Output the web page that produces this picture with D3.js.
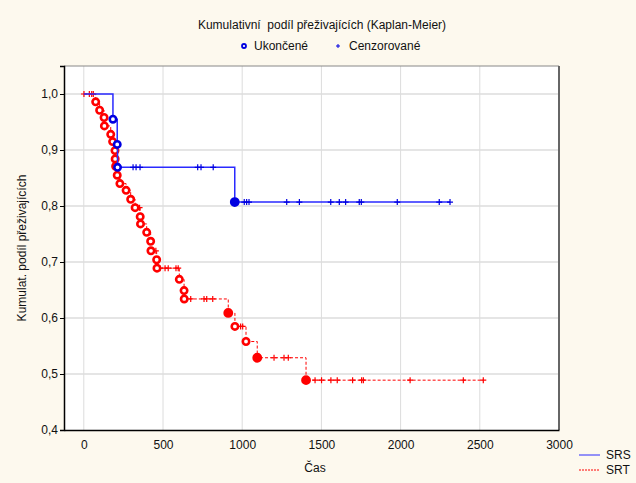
<!DOCTYPE html>
<html>
<head>
<meta charset="utf-8">
<script src="https://cdn.jsdelivr.net/npm/d3@7"></script>
<style>
  body { margin: 0; background: #fdf9ee; }
  svg { display: block; font-family: "Liberation Sans", Arial, sans-serif; }
</style>
</head>
<body>
<svg id="drawing_region"></svg>
<script>
// SRS group: event times / survival after event, censored times
const srsEventTimes = [184, 211, 213, 953];
const srsEventSurv = [0.955, 0.91, 0.869, 0.807];
const srsCensored = [311, 330, 355, 719, 740, 817, 1013, 1028, 1043, 1281, 1361, 1559, 1613, 1653, 1739, 1752, 1979, 2244, 2312];
const srsEnd = 2312;

// SRT group
const srtEventTimes = [75, 100, 128, 130, 170, 182, 197, 198, 201, 211, 228, 267, 296, 324, 356, 358, 397, 422, 424, 460, 462, 603, 633, 634, 912, 954, 1024, 1095, 1403];
const srtEventSurv = [0.986, 0.971, 0.958, 0.943, 0.928, 0.915, 0.899, 0.884, 0.871, 0.855, 0.84, 0.828, 0.812, 0.797, 0.781, 0.768, 0.753, 0.737, 0.72, 0.704, 0.689, 0.669, 0.649, 0.634, 0.609, 0.585, 0.558, 0.529, 0.489];
const srtCensored = [1, 35, 50, 60, 172, 352, 455, 481, 513, 533, 582, 596, 675, 759, 776, 814, 990, 1003, 1201, 1264, 1291, 1460, 1501, 1560, 1600, 1697, 1754, 1765, 2060, 2396, 2522];
const srtEnd = 2522;

// events where several markers overlap (drawn as filled dots)
const srsTied = [953];
const srtTied = [912, 1095, 1403];

const xTicks = [0, 500, 1000, 1500, 2000, 2500, 3000];
const yTicks = [0.4, 0.5, 0.6, 0.7, 0.8, 0.9, 1.0];

const width = 636, height = 483;
const plot = { left: 64, top: 66, right: 559, bottom: 430 };

const svg = d3.select('#drawing_region')
    .attr('width', width)
    .attr('height', height);

const x = d3.scaleLinear().domain([-125, 3000]).range([plot.left, plot.right]);
const y = d3.scaleLinear().domain([0.4, 1.05]).range([plot.bottom, plot.top]);

// plot background
svg.append('rect')
    .attr('x', plot.left).attr('y', plot.top)
    .attr('width', plot.right - plot.left).attr('height', plot.bottom - plot.top)
    .attr('fill', '#fff');

// grid
svg.append('g').selectAll('line')
    .data(xTicks.slice(0, -1))
    .join('line')
    .attr('x1', d => x(d)).attr('x2', d => x(d))
    .attr('y1', plot.top).attr('y2', plot.bottom)
    .attr('stroke', '#dcdcdc').attr('stroke-width', 1);

svg.append('g').selectAll('line')
    .data(yTicks.slice(1))
    .join('line')
    .attr('x1', plot.left).attr('x2', plot.right)
    .attr('y1', d => y(d)).attr('y2', d => y(d))
    .attr('stroke', '#dcdcdc').attr('stroke-width', 1.5);

// frame
svg.append('line').attr('x1', plot.left).attr('x2', plot.right).attr('y1', plot.top).attr('y2', plot.top)
    .attr('stroke', '#888').attr('stroke-width', 1);
svg.append('line').attr('x1', plot.right).attr('x2', plot.right).attr('y1', plot.top).attr('y2', plot.bottom)
    .attr('stroke', '#666').attr('stroke-width', 2);

// axes
const fmt = d => d.toFixed(1).replace('.', ',');
svg.append('g')
    .attr('transform', `translate(${plot.left},0)`)
    .call(d3.axisLeft(y).tickValues(yTicks).tickFormat(fmt).tickSize(4).tickPadding(2))
    .call(g => g.select('.domain').attr('stroke', '#000').attr('stroke-width', 1.5))
    .call(g => g.selectAll('text').attr('font-size', 12).attr('fill', '#111'));

svg.append('g')
    .attr('transform', `translate(0,${plot.bottom})`)
    .call(d3.axisBottom(x).tickValues(xTicks).tickFormat(d => d).tickSize(0).tickPadding(10))
    .call(g => g.select('.domain').attr('stroke', '#000').attr('stroke-width', 1.5))
    .call(g => g.selectAll('text').attr('font-size', 12).attr('fill', '#111'));

// Kaplan-Meier curves
function stepPoints(times, surv, end) {
    const pts = [[0, 1]];
    times.forEach((t, i) => pts.push([t, surv[i]]));
    pts.push([end, surv[surv.length - 1]]);
    return pts;
}
function survAt(times, surv, t) {
    let s = 1;
    times.forEach((tt, i) => { if (tt <= t) s = surv[i]; });
    return s;
}

const line = d3.line()
    .x(d => x(d[0]))
    .y(d => y(d[1]))
    .curve(d3.curveStepAfter);

const series = [
    { name: 'SRS', times: srsEventTimes, surv: srsEventSurv, cens: srsCensored, end: srsEnd, tied: srsTied,
      color: '#2a2aff', mark: '#0000e0', dash: null, width: 1.5 },
    { name: 'SRT', times: srtEventTimes, surv: srtEventSurv, cens: srtCensored, end: srtEnd, tied: srtTied,
      color: '#ff0000', mark: '#ff0000', dash: '3,2', width: 1 }
];

// draw SRT first so SRS sits on top
series.slice().reverse().forEach(s => {
    const g = svg.append('g');
    g.append('path')
        .attr('d', line(stepPoints(s.times, s.surv, s.end)))
        .attr('fill', 'none')
        .attr('stroke', s.color)
        .attr('stroke-width', s.width)
        .attr('stroke-dasharray', s.dash);

    g.selectAll('path.cens')
        .data(s.cens)
        .join('path')
        .attr('class', 'cens')
        .attr('d', d => {
            const cx = x(d), cy = y(survAt(s.times, s.surv, d));
            return `M${cx - 3},${cy}H${cx + 3}M${cx},${cy - 3}V${cy + 3}`;
        })
        .attr('stroke', s.mark)
        .attr('stroke-width', 1.2);

    g.selectAll('circle')
        .data(s.times.map((t, i) => ({ t: t, v: s.surv[i] })))
        .join('circle')
        .attr('cx', d => x(d.t))
        .attr('cy', d => y(d.v))
        .attr('r', d => s.tied.includes(d.t) ? 3.6 : 3.2)
        .attr('fill', d => s.tied.includes(d.t) ? s.mark : '#fff')
        .attr('stroke', s.mark)
        .attr('stroke-width', 2.6);
});

// titles
svg.append('text')
    .attr('x', 322).attr('y', 29)
    .attr('text-anchor', 'middle')
    .attr('font-size', 12)
    .attr('fill', '#111')
    .attr('xml:space', 'preserve')
    .text('Kumulativní  podíl přeživajících (Kaplan-Meier)');

svg.append('text')
    .attr('x', 315).attr('y', 472)
    .attr('text-anchor', 'middle')
    .attr('font-size', 12)
    .attr('fill', '#111')
    .text('Čas');

svg.append('text')
    .attr('transform', `translate(26,${(plot.top + plot.bottom) / 2}) rotate(-90)`)
    .attr('text-anchor', 'middle')
    .attr('font-size', 12)
    .attr('fill', '#111')
    .text('Kumulat. podíl přeživajících');

// marker legend
const legTop = svg.append('g');
legTop.append('circle').attr('cx', 244).attr('cy', 46).attr('r', 2)
    .attr('fill', '#fff').attr('stroke', '#0000e0').attr('stroke-width', 1.8);
legTop.append('text').attr('x', 254).attr('y', 50).attr('font-size', 12).attr('fill', '#111').text('Ukončené');
legTop.append('path').attr('d', 'M336,46H340M338,44V48').attr('stroke', '#0000e0').attr('stroke-width', 1);
legTop.append('text').attr('x', 349).attr('y', 50).attr('font-size', 12).attr('fill', '#111').text('Cenzorované');

// series legend
const legBot = svg.append('g');
series.forEach((s, i) => {
    const ly = 455 + i * 15;
    legBot.append('line')
        .attr('x1', 579).attr('x2', 600).attr('y1', ly).attr('y2', ly)
        .attr('stroke', s.color).attr('stroke-width', 1)
        .attr('stroke-dasharray', s.dash ? '2,1' : null);
    legBot.append('text')
        .attr('x', 606).attr('y', ly + 4)
        .attr('font-size', 12).attr('fill', '#111')
        .text(s.name);
});
</script>
</body>
</html>
